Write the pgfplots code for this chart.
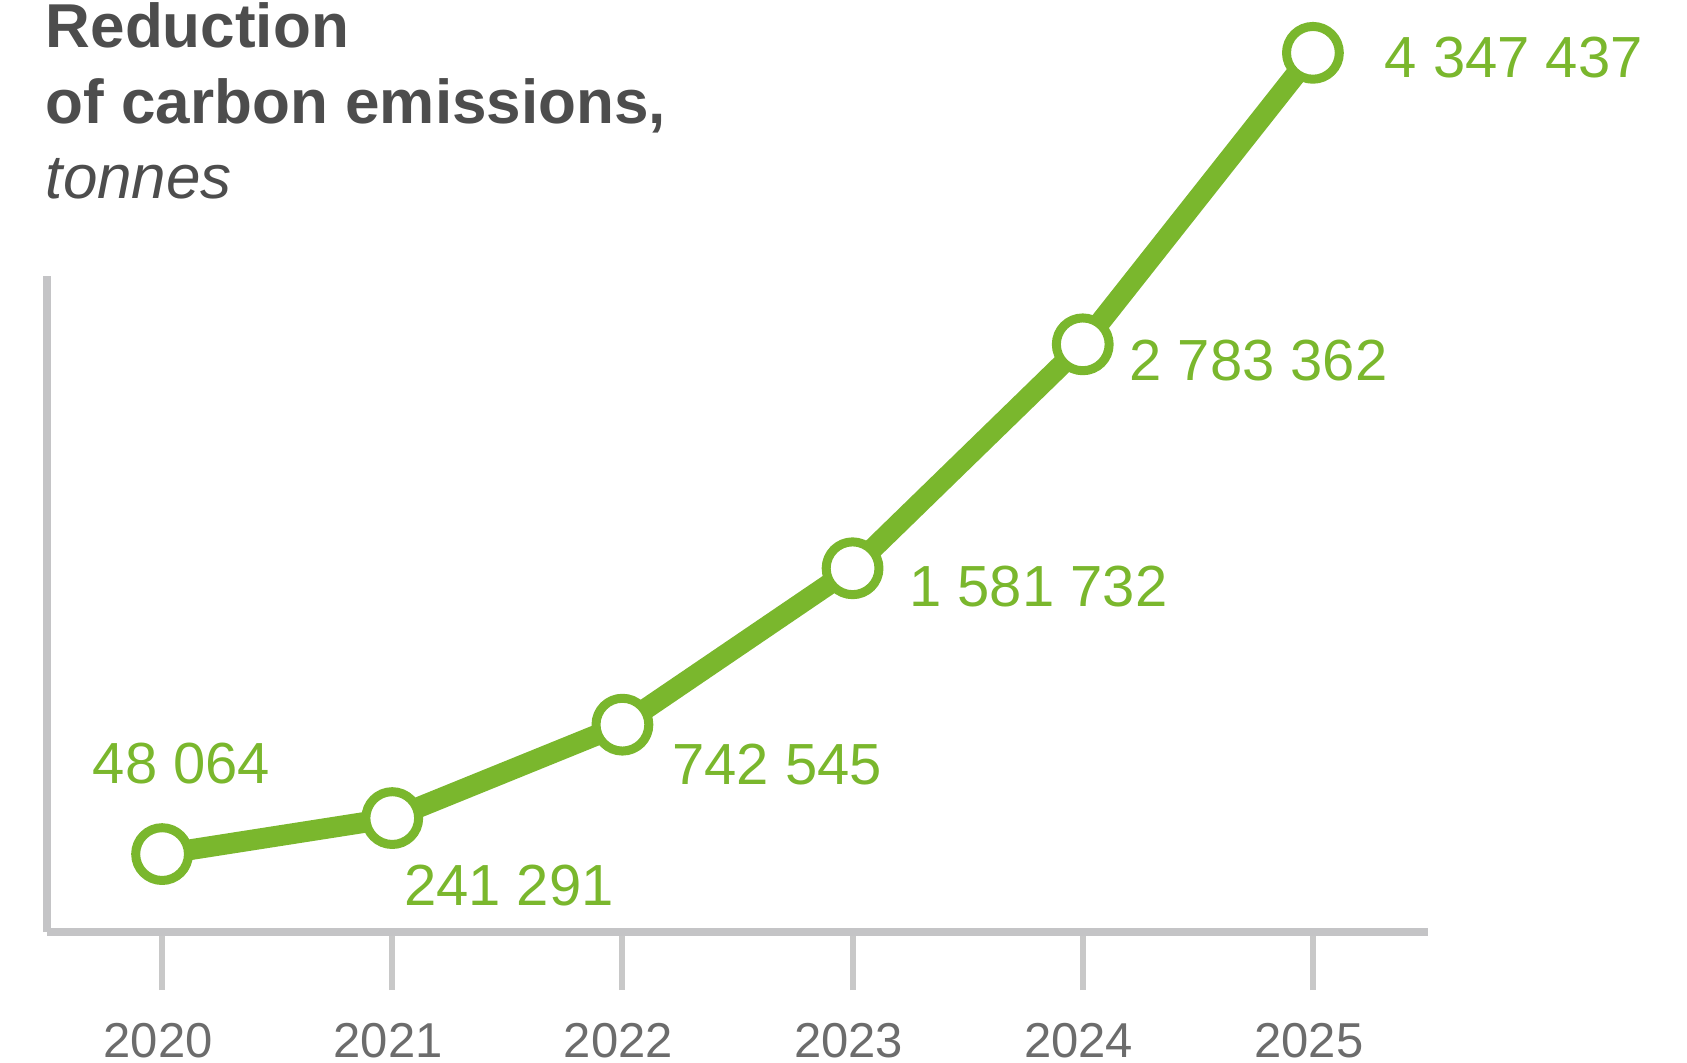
\documentclass[border=0pt]{standalone}
\usepackage{fontspec}
\setmainfont{Liberation Sans}
\usepackage{pgfplots}
\pgfplotsset{compat=1.18}
\definecolor{leaf}{RGB}{122,183,45}
\definecolor{axisgray}{RGB}{196,196,198}
\definecolor{tickgray}{RGB}{200,200,200}
\definecolor{labelgray}{RGB}{108,108,108}
\definecolor{titlegray}{RGB}{77,77,77}
\tikzset{vlabel/.style={font=\fontsize{14.5}{17}\selectfont, text=leaf,
        anchor=base west, inner sep=0pt}}

\begin{document}
\begin{tikzpicture}
\begin{axis}[
    at={(0,0)}, anchor=south west,
    scale only axis,
    width=345.25pt, height=164pt,
    xmin=-0.5, xmax=5.5,
    ymin=-370000, ymax=3150000,
    clip=false,
    axis x line=bottom, axis y line=left,
    axis line style={-, draw=axisgray, line width=2pt},
    xtick={0,...,5},
    xticklabels={2020,2021,2022,2023,2024,2025},
    ytick=\empty,
    tick align=outside,
    major tick length=14.5pt,
    xtick style={draw=tickgray, line width=1.5pt},
    xticklabel style={font=\fontsize{12.25}{14}\selectfont, text=labelgray,
        anchor=base, yshift=-16.75pt, xshift=-1pt},
]
\addplot[leaf, line width=5.2pt, line join=round,
    mark=*, mark size=6.6pt,
    mark options={fill=white, draw=leaf, line width=2.25pt}]
    coordinates {(0,48064) (1,241291) (2,742545) (3,1581732) (4,2783362) (5,4347437)};

\node[vlabel, xshift=-17.5pt, yshift=17.75pt] at (axis cs:0,48064) {48 064};
\node[vlabel, xshift=2.75pt, yshift=-21.75pt] at (axis cs:1,241291) {241 291};
\node[vlabel, xshift=12.25pt, yshift=-15pt] at (axis cs:2,742545) {742 545};
\node[vlabel, xshift=14pt, yshift=-9.5pt] at (axis cs:3,1581732) {1 581 732};
\node[vlabel, xshift=11.5pt, yshift=-9pt] at (axis cs:4,2783362) {2 783 362};
\node[vlabel, xshift=17.75pt, yshift=-6.25pt] at (axis cs:5,4347437) {4 347 437};
\end{axis}

\begin{scope}[every node/.style={anchor=base west, inner sep=0pt, text=titlegray}]
\node[font=\fontsize{15.5}{18}\selectfont\bfseries] at (-0.5pt,221pt) {Reduction};
\node[font=\fontsize{15.5}{18}\selectfont\bfseries] at (-0.5pt,202.25pt) {of carbon emissions,};
\node[font=\fontsize{15.5}{18}\selectfont\itshape] at (-0.5pt,183.5pt) {tonnes};
\end{scope}

\pgfresetboundingbox
\path[use as bounding box] (-11.75pt,-32.5pt) rectangle (410pt,233pt);
\end{tikzpicture}
\end{document}
